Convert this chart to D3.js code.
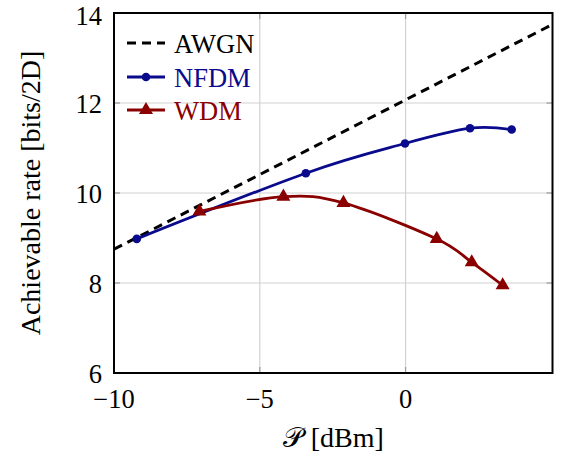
<!DOCTYPE html>
<html>
<head>
<meta charset="utf-8">
<script src="https://cdn.jsdelivr.net/npm/d3@7"></script>
<style>
  body { margin: 0; background: #fff; }
  svg { display: block; }
</style>
</head>
<body>
<svg id="chart" width="563" height="456" font-family="'Liberation Serif', serif"></svg>
<script>
// data
const awgnP = [-10, -5, 0, 5.05];
const awgnRate = [8.75, 10.41, 12.07, 13.75];

const nfdmP = [-9.22, -3.42, -0.02, 2.21, 3.64];
const nfdmRate = [8.98, 10.44, 11.10, 11.44, 11.41];

const wdmP = [-7.07, -4.19, -2.13, 1.07, 2.27, 3.33];
const wdmRate = [9.59, 9.92, 9.78, 8.98, 8.46, 7.95];

const xTicks = [-10, -5, 0];
const yTicks = [6, 8, 10, 12, 14];

const legendNames = ['AWGN', 'NFDM', 'WDM'];

// layout
const plotLeft = 114, plotRight = 552.5, plotTop = 13, plotBottom = 373;
const fontSize = 26.5;
const titleSize = 28;

const svg = d3.select('#chart');

const x = d3.scaleLinear().domain([-10, 5.04]).range([plotLeft, plotRight]);
const y = d3.scaleLinear().domain([6, 14]).range([plotBottom, plotTop]);

// grid
const grid = svg.append('g');
grid.selectAll('.gx')
  .data(xTicks)
  .join('line')
  .attr('x1', (d) => x(d)).attr('x2', (d) => x(d))
  .attr('y1', plotTop).attr('y2', plotBottom)
  .attr('stroke', '#d2d2d2').attr('stroke-width', 1.2);
grid.selectAll('.gy')
  .data(yTicks)
  .join('line')
  .attr('x1', plotLeft).attr('x2', plotRight)
  .attr('y1', (d) => y(d)).attr('y2', (d) => y(d))
  .attr('stroke', '#d2d2d2').attr('stroke-width', 1.2);

// small tick marks on the frame
const tk = svg.append('g').attr('stroke', '#9a9a9a').attr('stroke-width', 1.2);
xTicks.forEach((t) => {
  tk.append('line').attr('x1', x(t)).attr('x2', x(t)).attr('y1', plotBottom).attr('y2', plotBottom - 6);
  tk.append('line').attr('x1', x(t)).attr('x2', x(t)).attr('y1', plotTop).attr('y2', plotTop + 6);
});
yTicks.forEach((t) => {
  tk.append('line').attr('x1', plotLeft).attr('x2', plotLeft + 6).attr('y1', y(t)).attr('y2', y(t));
  tk.append('line').attr('x1', plotRight).attr('x2', plotRight - 6).attr('y1', y(t)).attr('y2', y(t));
});

// clip
svg.append('clipPath').attr('id', 'plotclip')
  .append('rect')
  .attr('x', plotLeft).attr('y', plotTop)
  .attr('width', plotRight - plotLeft).attr('height', plotBottom - plotTop);

const plot = svg.append('g').attr('clip-path', 'url(#plotclip)');

const smooth = d3.line()
  .x((d) => x(d[0]))
  .y((d) => y(d[1]))
  .curve(d3.curveCardinal.tension(0));

const straight = d3.line()
  .x((d) => x(d[0]))
  .y((d) => y(d[1]));

const awgn = d3.zip(awgnP, awgnRate);
const nfdm = d3.zip(nfdmP, nfdmRate);
const wdm = d3.zip(wdmP, wdmRate);

const colAwgn = '#000000';
const colNfdm = '#0a0a8c';
const colWdm = '#8a0000';

plot.append('path')
  .attr('d', straight(awgn))
  .attr('fill', 'none')
  .attr('stroke', colAwgn)
  .attr('stroke-width', 3)
  .attr('stroke-dasharray', '9 6');

plot.append('path')
  .attr('d', smooth(nfdm))
  .attr('fill', 'none')
  .attr('stroke', colNfdm)
  .attr('stroke-width', 2.8);

plot.append('path')
  .attr('d', smooth(wdm))
  .attr('fill', 'none')
  .attr('stroke', colWdm)
  .attr('stroke-width', 2.8);

const tri = d3.symbol().type(d3.symbolTriangle).size(85);

svg.append('g')
  .selectAll('circle')
  .data(nfdm)
  .join('circle')
  .attr('cx', (d) => x(d[0]))
  .attr('cy', (d) => y(d[1]))
  .attr('r', 4.3)
  .attr('fill', colNfdm);

svg.append('g')
  .selectAll('path')
  .data(wdm)
  .join('path')
  .attr('d', tri)
  .attr('transform', (d) => `translate(${x(d[0])},${y(d[1])})`)
  .attr('fill', colWdm);

// frame
svg.append('rect')
  .attr('x', plotLeft).attr('y', plotTop)
  .attr('width', plotRight - plotLeft).attr('height', plotBottom - plotTop)
  .attr('fill', 'none')
  .attr('stroke', '#000')
  .attr('stroke-width', 2);

// tick labels
svg.append('g')
  .selectAll('text')
  .data(xTicks)
  .join('text')
  .attr('x', (d) => x(d))
  .attr('y', 408)
  .attr('text-anchor', 'middle')
  .attr('font-size', fontSize)
  .text((d) => (d < 0 ? '\u2212' + Math.abs(d) : d));

// top label nudged down a little so it stays inside the picture
svg.append('g')
  .selectAll('text')
  .data(yTicks)
  .join('text')
  .attr('x', 102)
  .attr('y', (d) => Math.max(y(d) + 9.5, 25))
  .attr('text-anchor', 'end')
  .attr('font-size', fontSize)
  .text((d) => d);

// axis titles
const xt = svg.append('text')
  .attr('x', (plotLeft + plotRight) / 2)
  .attr('y', 447)
  .attr('text-anchor', 'middle')
  .attr('font-size', titleSize);
xt.append('tspan').text('\uD835\uDCAB');
xt.append('tspan').attr('dx', 8).text('[dBm]');

svg.append('text')
  .attr('transform', `translate(40,${(plotTop + plotBottom) / 2}) rotate(-90)`)
  .attr('text-anchor', 'middle')
  .attr('font-size', titleSize)
  .text('Achievable rate [bits/2D]');

// legend
const legendCols = [colAwgn, colNfdm, colWdm];
const legendY = [43, 77, 110];
const lg = svg.append('g');
legendNames.forEach((name, i) => {
  const yy = legendY[i];
  const ln = lg.append('line')
    .attr('x1', 127).attr('x2', 165)
    .attr('y1', yy).attr('y2', yy)
    .attr('stroke', legendCols[i])
    .attr('stroke-width', i === 0 ? 3 : 2.8);
  if (i === 0) ln.attr('stroke-dasharray', '9 6');
  if (i === 1) {
    lg.append('circle').attr('cx', 146).attr('cy', yy).attr('r', 4.3).attr('fill', colNfdm);
  }
  if (i === 2) {
    lg.append('path').attr('d', tri).attr('transform', `translate(146,${yy})`).attr('fill', colWdm);
  }
  lg.append('text')
    .attr('x', 174)
    .attr('y', yy + 10)
    .attr('font-size', fontSize)
    .attr('fill', legendCols[i])
    .text(name);
});
</script>
</body>
</html>
